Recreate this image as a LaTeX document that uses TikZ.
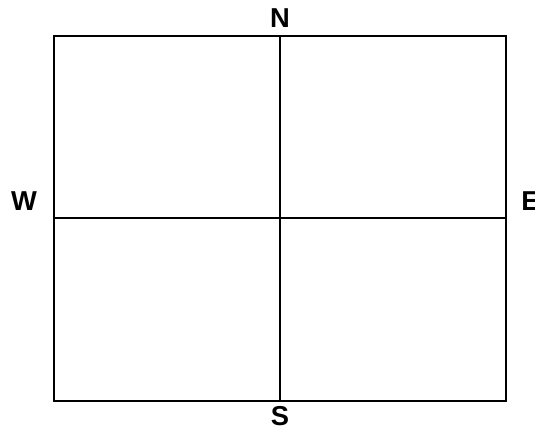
\documentclass[tikz,border=0pt]{standalone}
\usepackage{fontspec}
\setmainfont{Liberation Sans}
\usepackage{tikz}
\usetikzlibrary{calc,positioning}

\tikzset{
  compass/.style={font=\fontsize{20.5}{22}\selectfont\bfseries, inner sep=0pt}
}

\begin{document}
\begin{tikzpicture}[x=0.75pt, y=-0.75pt]
            \useasboundingbox (0,0) rectangle (535,429);
            \def\a{54}
            \def\b{506}
            \coordinate (x1) at (\a, 36);
            \coordinate (x2) at (\b, 36);
            \coordinate (x3) at (\a, 401);
            \coordinate (x4) at (\b, 401);
            \coordinate (n) at (280, 36);
            \coordinate (s) at (280, 401);
            \coordinate (w) at (\a, 218);
            \coordinate (e) at (\b, 218);
            \draw[line width=1.5pt] (x1) -- (x2) -- (x4) -- (x3) -- cycle;
            \draw[line width=1.5pt] (n) -- (s);
            \draw[line width=1.5pt] (w) -- (e);
            \node[compass] (lN) at (280, 18.5) {N};
            \node[compass] (lS) at (280, 416) {S};
            \node[compass] (lW) at (24, 201) {W};
            \node[compass, anchor=west] (lE) at (521, 201) {E};
          \end{tikzpicture}
\end{document}
